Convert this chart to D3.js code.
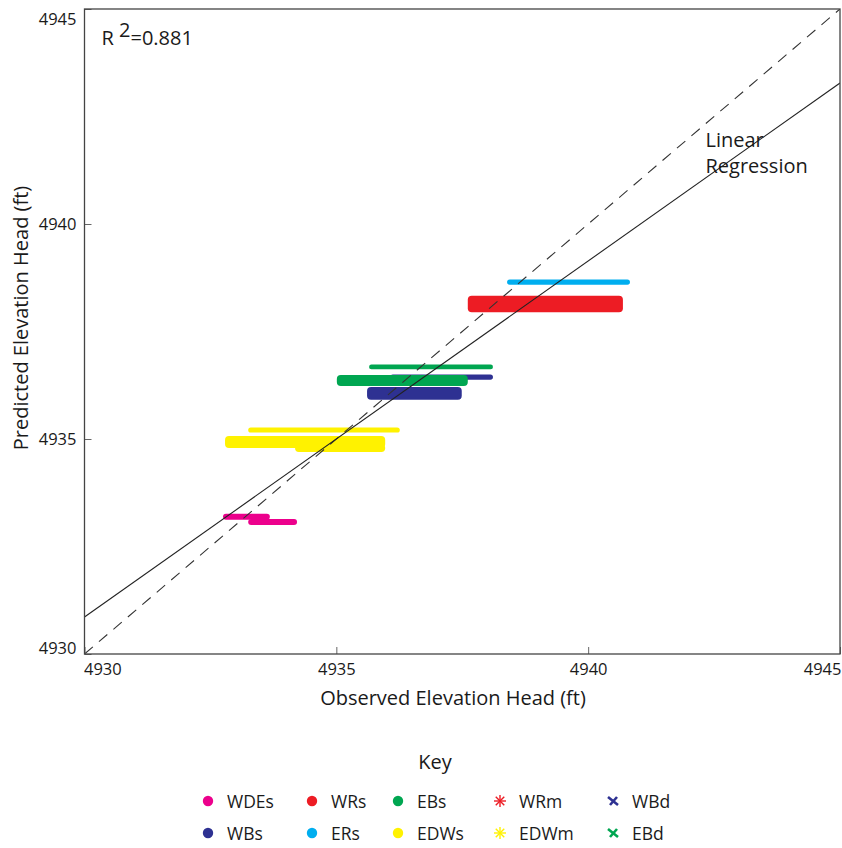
<!DOCTYPE html>
<html>
<head>
<meta charset="utf-8">
<script src="https://cdn.jsdelivr.net/npm/d3@7"></script>
<style>
  body { margin: 0; background: #fff; }
  svg text { font-family: "Open Sans", "Noto Sans", sans-serif; fill: #1a1a1a; }
</style>
</head>
<body>
<div id="chart"></div>
<script>
// axis ticks
const xTicks = [4930, 4935, 4940, 4945];
const yTicks = [4930, 4935, 4940, 4945];

// legend keys, in reading order (row 1 then row 2)
const keyNames = ["WDEs", "WRs", "EBs", "WRm", "WBd", "WBs", "ERs", "EDWs", "EDWm", "EBd"];
const keyColors = ["#ec008c", "#ed1c24", "#00a651", "#ed1c24", "#2e3192",
                   "#2e3192", "#00aeef", "#fff200", "#fff200", "#00a651"];
const keyShapes = ["dot", "dot", "dot", "star", "cross", "dot", "dot", "dot", "star", "cross"];

// bands of points: series, observed from/to, predicted low/high (ft)
const bandSeries = ["EDWs", "EDWs", "EDWs", "WDEs", "WDEs", "WBs", "EBs", "EBs", "WBs", "WRs", "ERs"];
const bandObs0 = [4933.25, 4932.79, 4934.18, 4932.75, 4933.25, 4936.07, 4935.65, 4935.01, 4935.61, 4937.61, 4938.39];
const bandObs1 = [4936.26, 4935.97, 4935.97, 4933.68, 4934.22, 4938.11, 4938.11, 4937.61, 4937.49, 4940.69, 4940.83];
const bandPred0 = [4935.15, 4934.79, 4934.70, 4933.12, 4933.00, 4936.38, 4936.62, 4936.23, 4935.91, 4937.95, 4938.59];
const bandPred1 = [4935.27, 4935.07, 4934.88, 4933.26, 4933.14, 4936.50, 4936.73, 4936.49, 4936.21, 4938.33, 4938.71];

// fitted line ends and R squared
const fitX = [4930, 4945];
const fitY = [4930.86, 4943.28];
const rSquared = "0.881";

const W = 842, H = 848;
const margin = {top: 9, right: 2, bottom: 194, left: 84.5};
const plotW = W - margin.left - margin.right;
const plotH = H - margin.top - margin.bottom;

const colorOf = {};
keyNames.forEach((k, i) => { colorOf[k] = keyColors[i]; });

const svg = d3.select("#chart").append("svg")
  .attr("width", W)
  .attr("height", H);

const g = svg.append("g")
  .attr("transform", `translate(${margin.left}, ${margin.top})`);

const x = d3.scaleLinear().domain([4930, 4945]).range([0, plotW]);
const y = d3.scaleLinear().domain([4930, 4945]).range([plotH, 0]);

g.append("clipPath").attr("id", "clip")
  .append("rect").attr("width", plotW).attr("height", plotH);

// bands
const bands = bandSeries.map((s, i) => ({s: s, x0: bandObs0[i], x1: bandObs1[i], y0: bandPred0[i], y1: bandPred1[i]}));

g.append("g").attr("clip-path", "url(#clip)")
  .selectAll(".band")
  .data(bands)
  .enter().append("rect")
    .classed("band", true)
    .attr("x", d => x(d.x0))
    .attr("y", d => y(d.y1))
    .attr("width", d => x(d.x1) - x(d.x0))
    .attr("height", d => y(d.y0) - y(d.y1))
    .attr("rx", d => Math.min(4, (y(d.y0) - y(d.y1)) / 2))
    .attr("fill", d => colorOf[d.s]);

// 1:1 line and regression line
const lines = g.append("g").attr("clip-path", "url(#clip)");
lines.append("line")
  .attr("x1", x(4930)).attr("y1", y(4930))
  .attr("x2", x(4945)).attr("y2", y(4945))
  .attr("stroke", "#333")
  .attr("stroke-width", 1.1)
  .attr("stroke-dasharray", "11,8");
lines.append("line")
  .attr("x1", x(fitX[0])).attr("y1", y(fitY[0]))
  .attr("x2", x(fitX[1])).attr("y2", y(fitY[1]))
  .attr("stroke", "#222")
  .attr("stroke-width", 1.1);

// axes
const xAxis = g.append("g")
  .attr("transform", `translate(0, ${plotH})`)
  .call(d3.axisBottom(x).tickValues(xTicks).tickFormat(d3.format("d")).tickSizeInner(-7).tickSizeOuter(0).tickPadding(9));
const yAxis = g.append("g")
  .call(d3.axisLeft(y).tickValues(yTicks).tickFormat(d3.format("d")).tickSizeInner(-7).tickSizeOuter(0).tickPadding(8));

[xAxis, yAxis].forEach(a => {
  a.select(".domain").remove();
  a.selectAll(".tick line").attr("stroke", "#666");
  a.selectAll(".tick text").style("font-size", "16.5px").attr("fill", "#1a1a1a");
});
xAxis.selectAll(".tick text")
  .attr("text-anchor", d => d === 4930 ? "start" : d === 4945 ? "end" : "middle")
  .attr("dx", d => d === 4930 ? -1 : d === 4945 ? 1 : 0);
yAxis.selectAll(".tick text")
  .attr("dy", d => d === 4945 ? "0.95em" : d === 4930 ? "-0.05em" : "0.32em");

// frame
g.append("rect")
  .attr("width", plotW).attr("height", plotH)
  .attr("fill", "none")
  .attr("stroke", "#444")
  .attr("stroke-width", 1.3);

// axis titles
svg.append("text")
  .attr("x", 453).attr("y", 705)
  .attr("text-anchor", "middle")
  .style("font-size", "20px")
  .text("Observed Elevation Head (ft)");
svg.append("text")
  .attr("transform", `translate(28, 318) rotate(-90)`)
  .attr("text-anchor", "middle")
  .style("font-size", "20px")
  .text("Predicted Elevation Head (ft)");

// R squared note
const r2 = g.append("text")
  .attr("x", 17).attr("y", 36)
  .style("font-size", "20px");
r2.append("tspan").text("R ");
r2.append("tspan").attr("dy", -8).text("2");
r2.append("tspan").attr("dy", 8).text("=" + rSquared);

// regression label
const lab = g.append("text")
  .attr("x", 621).attr("y", 138)
  .style("font-size", "20px");
lab.append("tspan").attr("x", 621).text("Linear");
lab.append("tspan").attr("x", 621).attr("dy", 26).text("Regression");

// legend
svg.append("text")
  .attr("x", 435).attr("y", 769)
  .attr("text-anchor", "middle")
  .style("font-size", "20px")
  .text("Key");

const colX = [208, 312, 398, 500, 613];
const rowY = [801, 833];

const key = svg.append("g").selectAll(".key")
  .data(keyNames)
  .enter().append("g")
    .classed("key", true)
    .attr("transform", (d, i) => `translate(${colX[i % 5]}, ${rowY[Math.floor(i / 5)]})`);

key.each(function(d, i) {
  const k = d3.select(this);
  const c = keyColors[i];
  if (keyShapes[i] === "dot") {
    k.append("circle").attr("r", 5.2).attr("fill", c);
  } else if (keyShapes[i] === "star") {
    d3.range(8).forEach(j => {
      const a = j * Math.PI / 4;
      k.append("line")
        .attr("x1", 0).attr("y1", 0)
        .attr("x2", 6 * Math.cos(a)).attr("y2", 6 * Math.sin(a))
        .attr("stroke", c).attr("stroke-width", 1.4);
    });
  } else {
    k.append("line").attr("x1", -5).attr("y1", -4).attr("x2", 5).attr("y2", 4)
      .attr("stroke", c).attr("stroke-width", 2.6);
    k.append("line").attr("x1", 4).attr("y1", -4).attr("x2", -3).attr("y2", 4)
      .attr("stroke", c).attr("stroke-width", 2.6);
  }
  k.append("text")
    .attr("x", 19).attr("y", 6.5)
    .style("font-size", "17.5px")
    .text(d);
});
</script>
</body>
</html>
